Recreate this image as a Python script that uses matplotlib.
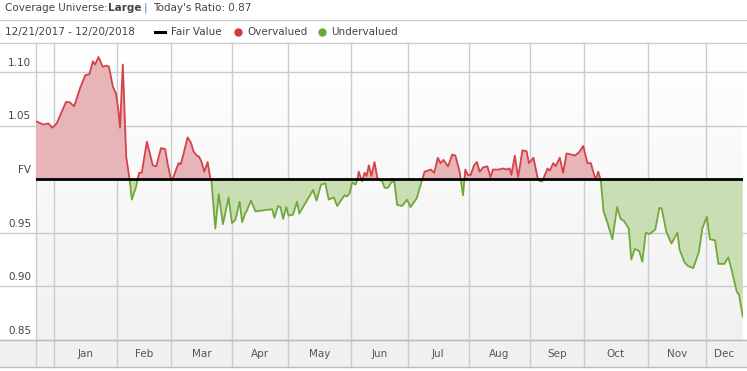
import numpy as np
import matplotlib
matplotlib.use("Agg")
import matplotlib.pyplot as plt
from matplotlib.transforms import blended_transform_factory

W, H = 747, 371

# trading-day index (0 = 12/21/2017) and price / fair value ratio
days = [0.0, 2.6, 4.4, 5.8, 7.3, 10.6, 11.8, 13.5, 15.6, 17.4, 18.9, 20.1, 20.9, 22.1,
        23.6, 25.0, 25.8, 27.2, 28.3, 29.1, 29.7, 30.7, 31.9, 33.0, 33.9, 35.4, 35.9,
        36.5, 37.4, 39.2, 41.3, 42.5, 44.2, 45.7, 46.5, 47.8, 48.6, 50.4, 51.2, 52.2,
        53.6, 54.8, 55.7, 56.9, 57.7, 58.7, 59.5, 60.7, 61.6, 62.0, 63.4, 64.6, 66.1,
        68.1, 69.3, 70.5, 72.0, 72.9, 73.8, 74.6, 76.0, 77.6, 83.5, 84.3, 85.6, 86.4,
        87.4, 88.5, 89.3, 90.9, 92.3, 93.1, 98.0, 99.2, 100.8, 102.3, 103.5, 105.3,
        106.5, 109.1, 110.0, 110.9, 111.8, 113.0, 113.6, 114.1, 115.3, 116.2, 116.9,
        117.7, 118.6, 119.7, 120.7, 122.4, 123.3, 124.5, 125.6, 126.7, 127.7, 129.5,
        131.2, 132.4, 134.6, 136.6, 137.4, 139.6, 140.8, 142.1, 143.0, 144.1, 145.7,
        147.2, 148.3, 149.8, 151.0, 151.8, 152.7, 153.7, 154.9, 155.9, 156.9, 158.1,
        159.6, 160.7, 161.6, 163.6, 165.2, 166.3, 167.5, 168.1, 169.3, 170.5, 172.0,
        173.5, 174.3, 175.9, 177.4, 178.2, 179.0, 180.9, 181.7, 182.9, 183.7, 185.2,
        186.4, 187.6, 189.4, 190.5, 192.0, 193.5, 195.0, 196.2, 197.9, 198.8, 199.7,
        200.7, 202.0, 203.8, 205.5, 206.7, 207.9, 209.6, 210.5, 211.7, 213.3, 214.4,
        215.6, 217.0, 219.0, 220.4, 221.2, 222.9, 224.7, 226.8, 227.6, 229.4, 230.6,
        232.4, 233.6, 234.4, 235.6, 237.2, 238.3, 240.1, 241.3, 243.4, 244.8, 246.0,
        247.8, 248.6, 249.9]
ratio = [1.054, 1.051, 1.052, 1.048, 1.052, 1.072, 1.072, 1.068, 1.085, 1.097, 1.098,
         1.110, 1.107, 1.114, 1.105, 1.106, 1.105, 1.086, 1.080, 1.065, 1.048, 1.107,
         1.021, 1.002, 0.981, 0.993, 1.000, 1.006, 1.006, 1.035, 1.013, 1.012, 1.029,
         1.028, 1.015, 0.999, 1.002, 1.015, 1.014, 1.024, 1.039, 1.034, 1.026, 1.022,
         1.021, 1.015, 1.007, 1.016, 1.001, 1.000, 0.954, 0.986, 0.958, 0.983, 0.959,
         0.962, 0.979, 0.960, 0.967, 0.971, 0.980, 0.970, 0.972, 0.964, 0.975, 0.974,
         0.963, 0.974, 0.966, 0.967, 0.979, 0.968, 0.990, 0.980, 0.995, 0.996, 0.981,
         0.983, 0.975, 0.985, 0.984, 0.987, 0.997, 0.995, 0.999, 1.007, 0.998, 1.006,
         1.003, 1.013, 1.003, 1.016, 1.001, 0.998, 0.992, 0.992, 0.997, 0.998, 0.976,
         0.975, 0.981, 0.974, 0.982, 1.000, 1.007, 1.009, 1.006, 1.020, 1.015, 1.018,
         1.012, 1.023, 1.022, 1.007, 0.985, 1.009, 1.004, 1.004, 1.013, 1.016, 1.007,
         1.011, 1.012, 1.002, 1.009, 1.009, 1.010, 1.009, 1.010, 1.004, 1.022, 1.002,
         1.027, 1.026, 1.015, 1.020, 1.001, 0.998, 0.998, 1.010, 1.008, 1.015, 1.012,
         1.020, 1.006, 1.024, 1.023, 1.022, 1.025, 1.031, 1.015, 1.015, 0.999, 1.007,
         0.999, 0.970, 0.960, 0.944, 0.974, 0.963, 0.961, 0.954, 0.925, 0.935, 0.933,
         0.923, 0.950, 0.949, 0.953, 0.973, 0.973, 0.951, 0.940, 0.950, 0.934, 0.922,
         0.919, 0.917, 0.926, 0.932, 0.954, 0.965, 0.944, 0.943, 0.921, 0.921, 0.927,
         0.915, 0.895, 0.892, 0.872]

month_labels = ["Jan", "Feb", "Mar", "Apr", "May", "Jun", "Jul", "Aug", "Sep", "Oct", "Nov", "Dec"]
month_starts = [6.4, 28.7, 47.8, 69.4, 89.2, 111.5, 131.4, 153.0, 174.6, 193.7, 216.4, 236.9]
y_ticks = [0.85, 0.90, 0.95, 1.00, 1.05, 1.10]
y_labels = ["0.85", "0.90", "0.95", "FV", "1.05", "1.10"]

RED_LINE, RED_FILL = "#d4424a", "#e7b1b4"
GREEN_LINE, GREEN_FILL = "#70a83a", "#c7ddb0"
GRID = "#cccccc"
TXT = "#444444"

x = np.array(days)
y = np.array(ratio)

# add crossing points at 1.0 so red and green parts meet
xs, ys = [x[0]], [y[0]]
for i in range(1, len(x)):
    a, b = y[i - 1] - 1, y[i] - 1
    if a * b < 0:
        t = a / (a - b)
        xs.append(x[i - 1] + t * (x[i] - x[i - 1]))
        ys.append(1.0)
    xs.append(x[i])
    ys.append(y[i])
xs, ys = np.array(xs), np.array(ys)

fig = plt.figure(figsize=(W / 100, H / 100), dpi=100)
fig.patch.set_facecolor("white")

L, R, T, B = 36, 743, 43, 340
ax = fig.add_axes([L / W, 1 - B / H, (R - L) / W, (B - T) / H])
ax.set_xlim(0, 250)
ymin = 0.85
ymax = 1.10 + (72 - T) / ((B - 72) / 0.25)
ax.set_ylim(ymin, ymax)
ax.axis("off")

# background gradient of the plot area
grad = np.linspace(0, 1, 100).reshape(-1, 1)
ax.imshow(grad, extent=[0, 250, ymin, ymax], aspect="auto", origin="upper",
          cmap=matplotlib.colors.LinearSegmentedColormap.from_list("bg", ["#ffffff", "#f1f1f1"]),
          zorder=0)

# x-axis band
band = fig.add_axes([0, 1 - 367 / H, 1, 27 / H], zorder=-1)
band.set_facecolor("#f0f0f0")
band.set_xticks([])
band.set_yticks([])
for s in band.spines.values():
    s.set_visible(False)

tr_h = blended_transform_factory(fig.transFigure, ax.transData)
tr_v = blended_transform_factory(ax.transData, fig.transFigure)

for v in y_ticks:
    if v == 1.0:
        continue
    ax.plot([0, 1], [v, v], transform=tr_h, color=GRID, lw=1, clip_on=False, zorder=1)
fig.add_artist(plt.Line2D([0, 1], [1 - T / H, 1 - T / H], color=GRID, lw=1))
fig.add_artist(plt.Line2D([0, 1], [1 - 367 / H, 1 - 367 / H], color="#bbbbbb", lw=1))
fig.add_artist(plt.Line2D([0, 1], [1 - B / H, 1 - B / H], color="#bbbbbb", lw=1))
fig.add_artist(plt.Line2D([0, 1], [1 - 20 / H, 1 - 20 / H], color=GRID, lw=1))

for d in [0] + month_starts:
    ax.plot([d, d], [1 - 367 / H, 1 - T / H], transform=tr_v, color=GRID, lw=1,
            clip_on=False, zorder=1)

ax.fill_between(xs, ys, 1.0, where=ys >= 1.0, color=RED_FILL, lw=0, zorder=2, alpha=0.95)
ax.fill_between(xs, ys, 1.0, where=ys <= 1.0, color=GREEN_FILL, lw=0, zorder=2, alpha=0.95)
ax.plot(xs, np.where(ys >= 1.0, ys, np.nan), color=RED_LINE, lw=1.3, zorder=3)
ax.plot(xs, np.where(ys <= 1.0, ys, np.nan), color=GREEN_LINE, lw=1.3, zorder=3)
ax.axhline(1.0, color="black", lw=2, zorder=4)

for v, lab in zip(y_ticks, y_labels):
    ax.text(31 / W, v + 0.004, lab, transform=tr_h, ha="right", va="bottom",
            fontsize=7.5, color=TXT)

edges = month_starts + [250]
for i, lab in enumerate(month_labels):
    mid = (edges[i] + edges[i + 1]) / 2
    ax.text(mid, 1 - 354 / H, lab, transform=tr_v, ha="center", va="center",
            fontsize=7.5, color="#555555")

# header
def ftext(px, py, s, color=TXT, **kw):
    fig.text(px / W, 1 - py / H, s, va="center", fontsize=7.5, color=color, **kw)

ftext(5, 8, "Coverage Universe:")
ftext(108, 8, "Large", fontweight="bold")
ftext(144, 8, "|", color="#4a7fc0")
ftext(153, 8, "Today's Ratio: 0.87")

ftext(5, 32, "12/21/2017 - 12/20/2018")
fig.add_artist(plt.Line2D([155 / W, 165 / W], [1 - 32 / H, 1 - 32 / H], color="black", lw=2.2))
ftext(171, 32, "Fair Value")
fig.add_artist(plt.Line2D([238 / W], [1 - 32 / H], marker="o", ms=5, color="#d43a3a", lw=0))
ftext(247, 32, "Overvalued")
fig.add_artist(plt.Line2D([322 / W], [1 - 32 / H], marker="o", ms=5, color="#6aa832", lw=0))
ftext(331, 32, "Undervalued")

fig.savefig("out.png", dpi=100)
